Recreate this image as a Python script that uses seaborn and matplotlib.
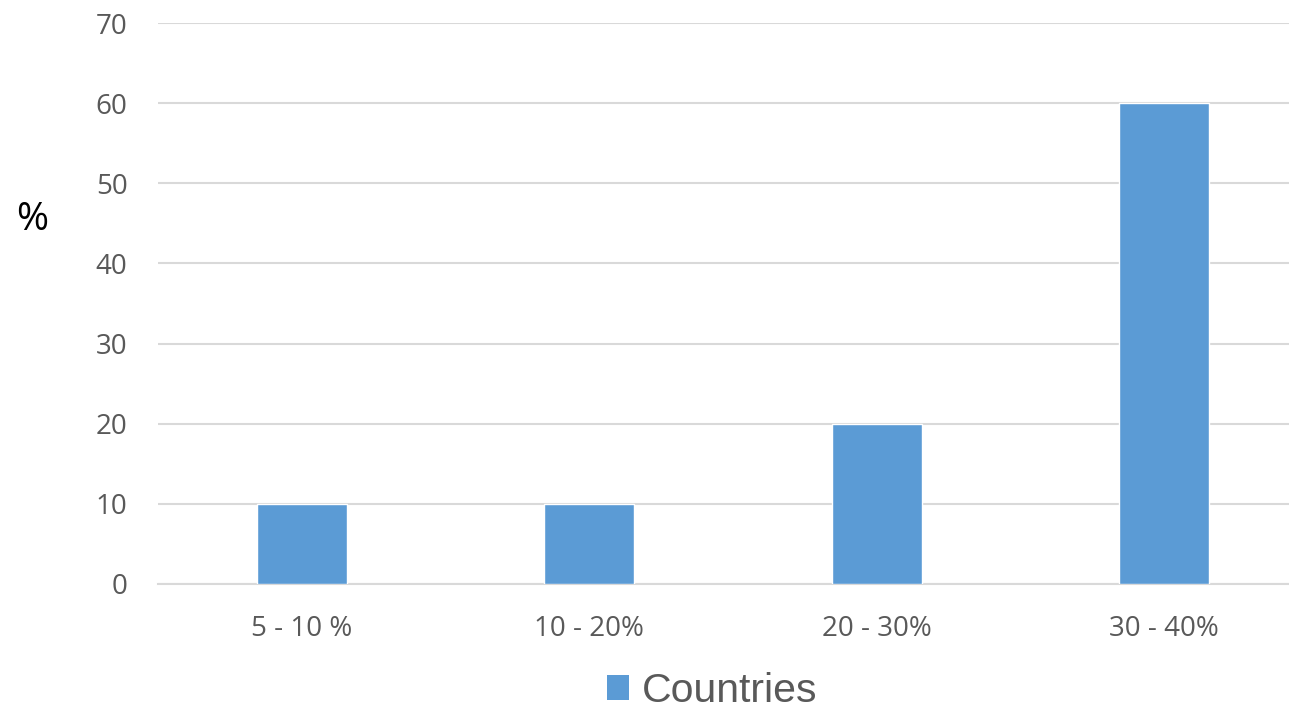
import matplotlib
matplotlib.use("Agg")
import matplotlib.pyplot as plt
import seaborn as sns
from matplotlib.patches import Patch

# data
categories = ["5 - 10 %", "10 - 20%", "20 - 30%", "30 - 40%"]
values = [10, 10, 20, 60]
series_name = "Countries"
yticks = [0, 10, 20, 30, 40, 50, 60, 70]

bar_color = "#5B9BD5"
grid_color = "#D9D9D9"
text_color = "#595959"

sns.set_style("white")
plt.rcParams['font.family'] = ['Open Sans', 'DejaVu Sans']

fig = plt.figure(figsize=(12.89, 7.08), dpi=100)
ax = fig.add_axes([158 / 1289, 1 - 584 / 708, 1150 / 1289, (584 - 23) / 708])

sns.barplot(x=categories, y=values, color=bar_color, width=0.313,
            saturation=1, ax=ax, zorder=3)

ax.set_ylim(0, 70)
ax.set_xlim(-0.5, 3.5)
ax.set_yticks(yticks)
ax.yaxis.grid(True, color=grid_color, linewidth=1.5, zorder=0)
ax.set_axisbelow(True)
for s in ["top", "right", "left"]:
    ax.spines[s].set_visible(False)
ax.spines["bottom"].set_color(grid_color)
ax.spines["bottom"].set_linewidth(1.5)
ax.tick_params(axis="both", length=0, labelsize=20, labelcolor=text_color)
ax.tick_params(axis="y", pad=22)
ax.tick_params(axis="x", pad=22)
ax.set_xlabel("")
ax.set_ylabel("")

# "%" label
fig.text(32 / 1289, 1 - 220 / 708, "%", fontsize=28, color="black",
         ha="center", va="center")

# legend
handle = Patch(facecolor=bar_color, edgecolor="none", label=series_name)
fig.legend(handles=[handle], loc="center", bbox_to_anchor=(712 / 1289, 1 - 691 / 708),
           frameon=False, prop={"family": "Liberation Sans", "size": 29.5},
           labelcolor=text_color, handlelength=0.55, handleheight=0.55,
           handletextpad=0.3)

plt.savefig("out.png", dpi=100)
